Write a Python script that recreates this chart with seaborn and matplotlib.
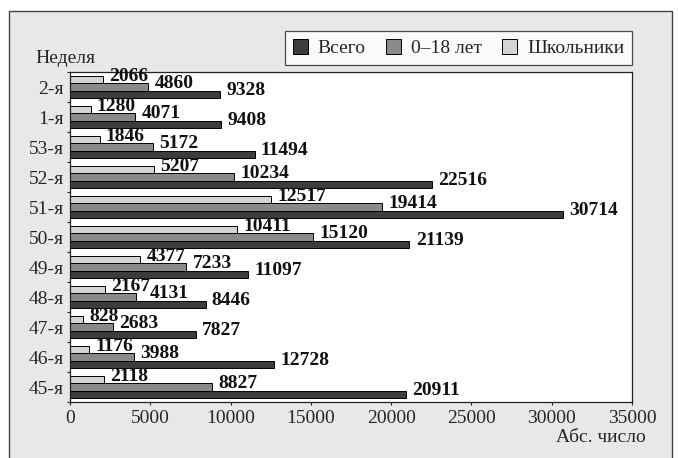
import numpy as np
import pandas as pd
import matplotlib
matplotlib.use('Agg')
import matplotlib.pyplot as plt
from matplotlib.patches import Rectangle
import seaborn as sns

####### DATA #######
weeks = ['2-я', '1-я', '53-я', '52-я', '51-я', '50-я', '49-я', '48-я', '47-я', '46-я', '45-я']
total = [9328, 9408, 11494, 22516, 30714, 21139, 11097, 8446, 7827, 12728, 20911]
kids = [4860, 4071, 5172, 10234, 19414, 15120, 7233, 4131, 2683, 3988, 8827]
pupils = [2066, 1280, 1846, 5207, 12517, 10411, 4377, 2167, 828, 1176, 2118]
series = ['Всего', '0–18 лет', 'Школьники']
colors = {'Всего': '#3c3c3c', '0–18 лет': '#8a8a8a', 'Школьники': '#d4d4d4'}
x_ticks = [0, 5000, 10000, 15000, 20000, 25000, 30000, 35000]

df = pd.DataFrame({'week': weeks * 3,
                   'value': total + kids + pupils,
                   'series': [s for s in series for _ in weeks]})

sns.set_style('white')
plt.rcParams['font.family'] = ['Liberation Serif', 'DejaVu Serif']
FS = 14

fig = plt.figure(figsize=(6.78, 4.58), dpi=100)
# grey outer frame (runs off the bottom of the picture)
fig.patches.append(Rectangle((9 / 678, -0.02), (672 - 9) / 678, 1 - 11 / 458 + 0.02,
                             transform=fig.transFigure, facecolor='#e8e8e8',
                             edgecolor='#444444', linewidth=1.0, zorder=-10))
ax = fig.add_axes([70 / 678, 1 - 402 / 458, (632 - 70) / 678, (402 - 72) / 458])
ax.set_zorder(1)
ax.set_facecolor('white')

hue_order = ['Школьники', '0–18 лет', 'Всего']
sns.barplot(data=df, x='value', y='week', hue='series', order=weeks, hue_order=hue_order,
            palette=colors, orient='h', width=0.74, edgecolor='black', linewidth=0.7,
            ax=ax, legend=True)

# value labels at bar ends
label_rows = []
for cont in ax.containers:
    row = []
    for bar in cont:
        w = bar.get_width()
        yc = bar.get_y() + bar.get_height() / 2
        t = ax.annotate(f'{int(w)}', (w, yc), xytext=(4.5, 2.5), textcoords='offset points',
                        ha='left', va='center', fontsize=FS, fontweight='bold', color='#111111')
        row.append(t)
    label_rows.append(row)

ax.set_xlim(0, 35000)
ax.set_ylim(len(weeks) - 0.5, -0.5)
ax.set_xticks(x_ticks)
ax.set_xticklabels([str(t) for t in x_ticks], fontsize=FS)
ax.set_yticks(range(len(weeks)))
ax.set_yticklabels(weeks, fontsize=FS)
ax.tick_params(axis='y', length=0, pad=4.5)
ax.tick_params(axis='x', length=2.5, width=0.8, direction='out', bottom=True, pad=3.5)
# ticks at group boundaries on y axis
ax.set_yticks(np.arange(-0.5, len(weeks), 1.0), minor=True)
ax.tick_params(axis='y', which='minor', length=2.5, width=0.8, direction='out', left=True)
ax.set_xlabel('')
ax.set_ylabel('')
for sp in ax.spines.values():
    sp.set_color('#222222')
    sp.set_linewidth(0.9)

# push a label right if it runs into the label of the bar above it
fig.canvas.draw()
renderer = fig.canvas.get_renderer()
for i in range(len(weeks)):
    for k in range(1, len(label_rows)):
        prev = label_rows[k - 1][i].get_window_extent(renderer)
        cur = label_rows[k][i].get_window_extent(renderer)
        if cur.x0 < prev.x1:
            dx, dy = label_rows[k][i].xyann
            label_rows[k][i].xyann = (dx + (prev.x1 - cur.x0) * 72 / fig.dpi, dy)

# legend in order Всего, 0-18, Школьники
handles, labels = ax.get_legend_handles_labels()
order = [labels.index(s) for s in series]
leg = ax.legend([handles[i] for i in order], [labels[i] for i in order],
                loc='lower right', bbox_to_anchor=(1.0, 1.0 + 7 / 330), ncol=3, frameon=True,
                fontsize=FS, fancybox=False, edgecolor='#222222', handlelength=0.78,
                handleheight=0.78, columnspacing=1.05, handletextpad=0.5,
                borderpad=0.4, borderaxespad=0.0)
leg.get_frame().set_linewidth(0.9)

fig.text(35 / 678, 1 - 58.5 / 458, 'Неделя', fontsize=FS, ha='left', va='center')
fig.text(646 / 678, 1 - 438 / 458, 'Абс. число', fontsize=FS, ha='right', va='center')

fig.savefig('out.png', dpi=100)
